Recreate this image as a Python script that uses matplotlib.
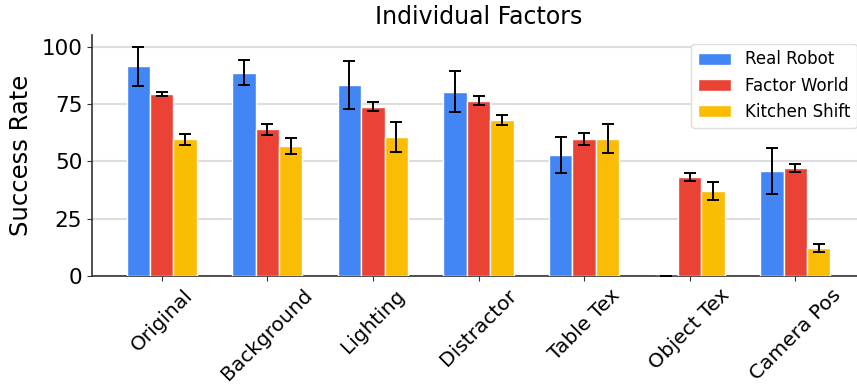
import matplotlib
matplotlib.use("Agg")
import matplotlib.pyplot as plt
import numpy as np

categories = ["Original", "Background", "Lighting", "Distractor", "Table Tex", "Object Tex", "Camera Pos"]
series_names = ["Real Robot", "Factor World", "Kitchen Shift"]

real_robot = [91.5, 88.8, 83.3, 80.4, 52.8, 0.0, 45.8]
real_robot_err = [8.4, 5.5, 10.6, 9.0, 7.9, 0.0, 10.0]

factor_world = [79.4, 64.0, 73.9, 76.5, 59.8, 43.1, 47.3]
factor_world_err = [1.0, 2.3, 2.0, 1.9, 2.5, 1.8, 1.8]

kitchen_shift = [59.6, 56.8, 60.8, 68.1, 59.9, 37.2, 12.3]
kitchen_shift_err = [2.2, 3.6, 6.6, 2.2, 6.3, 4.0, 1.7]

colors = ["#4285F4", "#EA4335", "#FBBC04"]
y_ticks = [0, 25, 50, 75, 100]

fig = plt.figure(figsize=(8.57, 3.87), dpi=100)
ax = fig.add_axes([92 / 857, 1 - 276 / 387, 773 / 857, (276 - 35.5) / 387])

x = np.arange(len(categories))
width = 0.222
values = [real_robot, factor_world, kitchen_shift]
errors = [real_robot_err, factor_world_err, kitchen_shift_err]
for i, (vals, errs, name, c) in enumerate(zip(values, errors, series_names, colors)):
    ax.bar(x + (i - 1) * width, vals, width, yerr=errs, color=c, label=name,
           edgecolor="white", linewidth=1.0, capsize=4,
           error_kw=dict(ecolor="black", elinewidth=1.4, capthick=1.4), zorder=3)

ax.set_xlim(-0.66, 6.66)
ax.set_ylim(0, 105)
ax.set_yticks(y_ticks)
ax.set_xticks(x)
ax.set_xticklabels(categories, rotation=45, ha="center")
ax.tick_params(axis="x", labelsize=14.5, color="#333333")
ax.tick_params(axis="y", labelsize=15.5, color="#333333")
ax.grid(axis="y", color="#dddddd", linewidth=1.5, zorder=0)
ax.set_axisbelow(True)
for side in ["top", "right"]:
    ax.spines[side].set_visible(False)
for side in ["left", "bottom"]:
    ax.spines[side].set_color("#333333")
    ax.spines[side].set_linewidth(1.2)

ax.set_ylabel("Success Rate", fontsize=17.5, labelpad=6)
ax.set_title("Individual Factors", fontsize=17, pad=8)
ax.legend(loc="upper right", fontsize=12, framealpha=1.0, edgecolor="#dddddd")

fig.savefig("out.png", dpi=100)
